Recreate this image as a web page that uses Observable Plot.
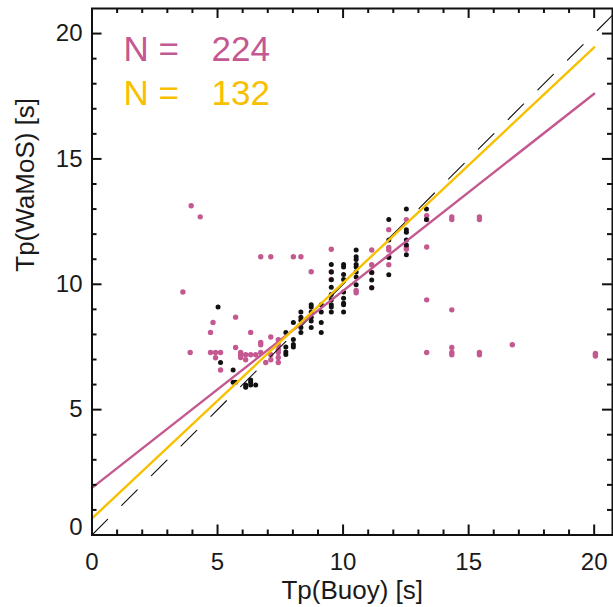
<!DOCTYPE html>
<html><head><meta charset="utf-8">
<script src="https://cdn.jsdelivr.net/npm/d3@7"></script>
<script src="https://cdn.jsdelivr.net/npm/@observablehq/plot@0.6"></script>
<style>html,body{margin:0;padding:0;background:#fff} svg{display:block}</style>
</head><body><div id="chart"></div>
<script>
// ---- data ----
const allX = [3.95,4.31,3.62,6.72,7.12,8.02,8.32,9.53,8.73,9.53,9.53,5.72,4.82,4.72,3.91,4.72,4.92,5.12,4.92,5.12,5.72,6.32,5.92,5.92,5.92,6.12,6.32,6.52,6.12,6.72,6.72,6.72,7.12,7.12,7.12,6.92,7.42,7.42,7.42,7.42,7.42,7.42,10.52,10.52,11.14,11.14,11.14,11.14,11.82,11.82,11.82,11.82,11.82,12.52,12.52,12.52,13.33,13.33,13.33,13.33,13.33,14.33,14.33,14.33,14.33,14.33,14.33,15.43,15.43,15.43,15.43,16.74,20.05,20.05,20.05];
const allY = [13.13,12.69,9.69,11.10,11.10,11.10,11.10,11.40,10.50,10.50,10.19,8.69,8.48,8.08,7.28,7.28,7.28,7.28,7.07,6.58,7.48,8.08,7.28,7.18,7.08,7.19,7.19,7.19,6.99,7.68,7.59,7.28,7.90,7.19,6.99,6.88,7.79,7.59,7.40,7.28,7.08,6.88,9.75,9.66,11.37,10.78,10.47,9.86,12.18,11.47,11.37,11.10,10.78,12.58,11.49,11.40,12.74,12.58,11.49,9.38,7.28,12.69,12.58,8.98,7.48,7.28,7.19,12.69,12.58,7.28,7.19,7.59,7.14,7.19,7.24];

const subX = [5.02,5.12,5.62,5.62,5.72,6.12,6.12,6.32,6.32,6.32,6.52,7.72,7.72,7.72,7.72,8.02,8.02,8.02,8.02,8.32,8.32,8.32,8.32,8.32,8.73,8.73,8.73,8.73,8.73,8.73,9.13,9.13,9.13,9.13,9.53,9.53,9.53,9.53,9.53,9.53,9.53,9.53,9.53,10.02,10.02,10.02,10.02,10.02,10.02,10.02,10.02,10.02,10.52,10.52,10.52,10.52,10.52,10.52,10.52,10.52,11.14,11.14,11.14,11.82,11.82,11.82,11.82,12.52,12.52,12.52,12.52,12.52,12.52,13.32,13.32];
const subY = [9.09,6.88,6.58,6.09,6.09,5.98,5.89,6.18,6.09,5.98,5.98,8.08,7.50,7.30,7.20,8.48,7.80,7.60,7.50,8.89,8.69,8.57,8.28,8.08,9.18,9.09,8.89,8.69,8.54,8.28,9.18,8.89,8.48,8.08,10.79,10.49,10.18,9.88,9.59,9.38,9.18,9.09,8.89,10.79,10.69,10.39,10.19,9.69,9.44,9.24,9.18,8.89,11.37,11.10,10.99,10.79,10.69,10.49,10.29,9.98,10.47,10.17,9.86,12.58,11.77,11.07,10.38,13.00,12.18,12.08,11.77,11.57,11.18,13.00,12.58];

// fit lines (end points)
const fitX = [0, 20];
const fitAllY = [1.88, 17.6];
const fitSubY = [0.66, 19.45];
const oneToOne = [0, 21];

const countLabels = ["N =", "N ="];
const countValues = ["224", "132"];

const xMajor = [0, 5, 10, 15, 20];
const xMinor = [1,2,3,4,6,7,8,9,11,12,13,14,16,17,18,19];
const yMajor = [0, 5, 10, 15, 20];
const yMinor = [1,2,3,4,6,7,8,9,11,12,13,14,16,17,18,19];
const yLabelTicks = [5, 10, 15, 20];

const xMax = 20.73, yMax = 21;
const cAll = "#c45891", cSub = "#f7c000";
const font = "'Liberation Sans', Arial, Helvetica, sans-serif";

const allPts = allX.map((x, i) => ({x, y: allY[i]}));
const subPts = subX.map((x, i) => ({x, y: subY[i]}));
const fitAll = fitX.map((x, i) => ({x, y: fitAllY[i]}));
const fitSub = fitX.map((x, i) => ({x, y: fitSubY[i]}));
const refPts = oneToOne.map(d => ({x: d, y: d}));
const labels = countLabels.map((t, i) => ({t, v: countValues[i], i, c: i === 0 ? cAll : cSub}));

const majLen = 0.4, minLen = 0.2;
const nText = (field, dx, idx, dy) => Plot.text(labels, {
  frameAnchor: "top-left", text: field, dx, dy, textAnchor: "start", lineAnchor: "middle",
  fontSize: 35, fill: "c", filter: d => d.i === idx
});

const chart = Plot.plot({
  width: 613, height: 607,
  marginLeft: 91.5, marginRight: 1, marginTop: 8, marginBottom: 72.5,
  x: {domain: [0, xMax], axis: null},
  y: {domain: [0, yMax], axis: null},
  style: {fontFamily: font, background: "#fff", color: "#1a1a1a"},
  marks: [
    Plot.dot(allPts, {x: "x", y: "y", r: 2.7, fill: cAll, stroke: "none"}),
    Plot.dot(subPts, {x: "x", y: "y", r: 2.5, fill: "#111", stroke: "none"}),
    Plot.line(refPts, {x: "x", y: "y", stroke: "#111", strokeWidth: 1.1, strokeDasharray: "22,20", clip: true}),
    Plot.line(fitAll, {x: "x", y: "y", stroke: cAll, strokeWidth: 2.4}),
    Plot.line(fitSub, {x: "x", y: "y", stroke: cSub, strokeWidth: 2.4}),
    // inward ticks on all four sides
    Plot.ruleX(xMajor, {x: d => d, y1: 0, y2: majLen, stroke: "#111", strokeWidth: 2}),
    Plot.ruleX(xMinor, {x: d => d, y1: 0, y2: minLen, stroke: "#111", strokeWidth: 2}),
    Plot.ruleX(xMajor, {x: d => d, y1: yMax, y2: yMax - majLen, stroke: "#111", strokeWidth: 2}),
    Plot.ruleX(xMinor, {x: d => d, y1: yMax, y2: yMax - minLen, stroke: "#111", strokeWidth: 2}),
    Plot.ruleY(yMajor, {y: d => d, x1: 0, x2: majLen, stroke: "#111", strokeWidth: 2}),
    Plot.ruleY(yMinor, {y: d => d, x1: 0, x2: minLen, stroke: "#111", strokeWidth: 2}),
    Plot.ruleY(yMajor, {y: d => d, x1: xMax, x2: xMax - majLen, stroke: "#111", strokeWidth: 2}),
    Plot.ruleY(yMinor, {y: d => d, x1: xMax, x2: xMax - minLen, stroke: "#111", strokeWidth: 2}),
    Plot.frame({stroke: "#111", strokeWidth: 2}),
    // tick labels
    Plot.text(xMajor, {x: d => d, y: 0, text: d => String(d), dy: 27, lineAnchor: "middle", fontSize: 24, fill: "#1a1a1a"}),
    Plot.text(yLabelTicks, {x: 0, y: d => d, text: d => String(d), dx: -9.5, textAnchor: "end", lineAnchor: "middle", fontSize: 24, fill: "#1a1a1a"}),
    Plot.text([0], {x: 0, y: d => d, text: d => String(d), dx: -9.5, dy: -8, textAnchor: "end", lineAnchor: "middle", fontSize: 24, fill: "#1a1a1a"}),
    // axis titles
    Plot.text(["Tp(Buoy) [s]"], {frameAnchor: "bottom", text: d => d, dy: 56, lineAnchor: "middle", fontSize: 26, fill: "#1a1a1a"}),
    Plot.text(["Tp(WaMoS) [s]"], {frameAnchor: "left", text: d => d, dx: -66, rotate: -90, lineAnchor: "middle", fontSize: 26, fill: "#1a1a1a"}),
    // N labels
    nText("t", 31.5, 0, 41.5),
    nText("v", 119.5, 0, 41.5),
    nText("t", 31.5, 1, 85.5),
    nText("v", 119.5, 1, 85.5)
  ]
});
document.getElementById("chart").appendChild(chart);
</script>
</body></html>
